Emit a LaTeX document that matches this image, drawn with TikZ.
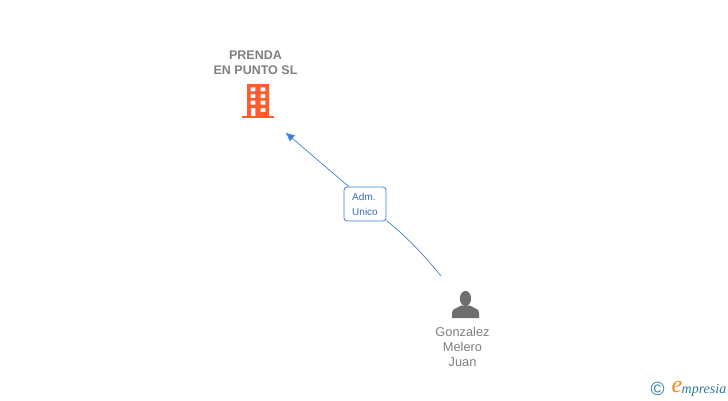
\documentclass[tikz,border=0pt]{standalone}
\usepackage{fontspec}
\setmainfont{Liberation Sans}
\newfontfamily\logofont{Liberation Serif}
\usetikzlibrary{arrows.meta,calc,positioning}
\definecolor{linkblue}{HTML}{3F7FD9}
\definecolor{textgray}{HTML}{7F7F7F}
\definecolor{iconorange}{HTML}{FF5C2E}
\definecolor{icongray}{HTML}{6E6E6E}
\definecolor{logoteal}{HTML}{2F7A99}
\definecolor{logoorange}{HTML}{F08A1D}
\tikzset{>={Latex[length=9pt,width=8pt]}}
\begin{document}
\begin{tikzpicture}[x=1pt,y=-1pt]
        % Setup the styles
        \tikzset{company style/.style={font=\fontsize{12.5}{15}\selectfont\bfseries,
                                       text=textgray,
                                       align=center},
                 person style/.style={font=\fontsize{12.8}{15}\selectfont,
                                      text=textgray,
                                      align=center},
                 role style/.style={draw=linkblue,
                                    fill=white,
                                    rounded corners=3pt,
                                    line width=0.8pt,
                                    minimum width=42pt,
                                    minimum height=34pt,
                                    inner sep=0pt,
                                    align=left,
                                    text=linkblue!85!black,
                                    font=\fontsize{10}{15}\selectfont},
                 link style/.style={draw=linkblue,
                                    line width=0.7pt}}
        \useasboundingbox (0,0) rectangle (728,400);

        % Draw the nodes
        \node[company style] at (255.5,62.5) (pr)  {PRENDA\\EN PUNTO SL};
        \node[person style]  at (462.5,347)  (gm)  {Gonzalez\\Melero\\Juan};
        \node[role style]    at (365,204)    (adm) {Adm.\\Unico};
        \coordinate (tip) at (285.5,132.5);
        \coordinate (pt)  at (441,276);

        % Building
        \fill[iconorange, even odd rule]
            (247,84) rectangle (269,116)
            (250.7,87.3) rectangle (255.3,91.3)
            (260.7,87.3) rectangle (265.3,91.3)
            (250.7,94) rectangle (255.3,98)
            (260.7,94) rectangle (265.3,98)
            (250.7,100.7) rectangle (255.3,104.7)
            (260.7,100.7) rectangle (265.3,104.7)
            (251,108) rectangle (255.3,116)
            (260.7,108) rectangle (265.3,112);
        \fill[iconorange] (242,115.5) rectangle (274,118);

        % Person
        \fill[icongray] (465.5,298.5) ellipse (5.6 and 7.6);
        \fill[icongray] (452,318) -- (452,312.5)
            .. controls (452,308.5) and (458,308) .. (461,305.5)
            -- (470,305.5)
            .. controls (473,308) and (479,308.5) .. (479,312.5)
            -- (479,318) -- cycle;

        % Connect the nodes
        \draw[link style,->] (adm.133) -- (tip);
        \draw[link style] (pt) .. controls (424,255) and (405,235) .. (adm);

        % Logo
        \node[text=logoteal, inner sep=0pt, font=\fontsize{19}{19}\selectfont] at (657.5,388.5) (cp) {©};
        \node[text=logoorange, inner sep=0pt, font=\logofont\fontsize{24}{24}\selectfont\itshape] at (677,387) (le) {e};
        \node[text=logoteal, inner sep=0pt, anchor=west, font=\logofont\fontsize{14}{14}\selectfont\itshape] at (681.5,390) (lm) {mpresia};
\end{tikzpicture}
\end{document}
